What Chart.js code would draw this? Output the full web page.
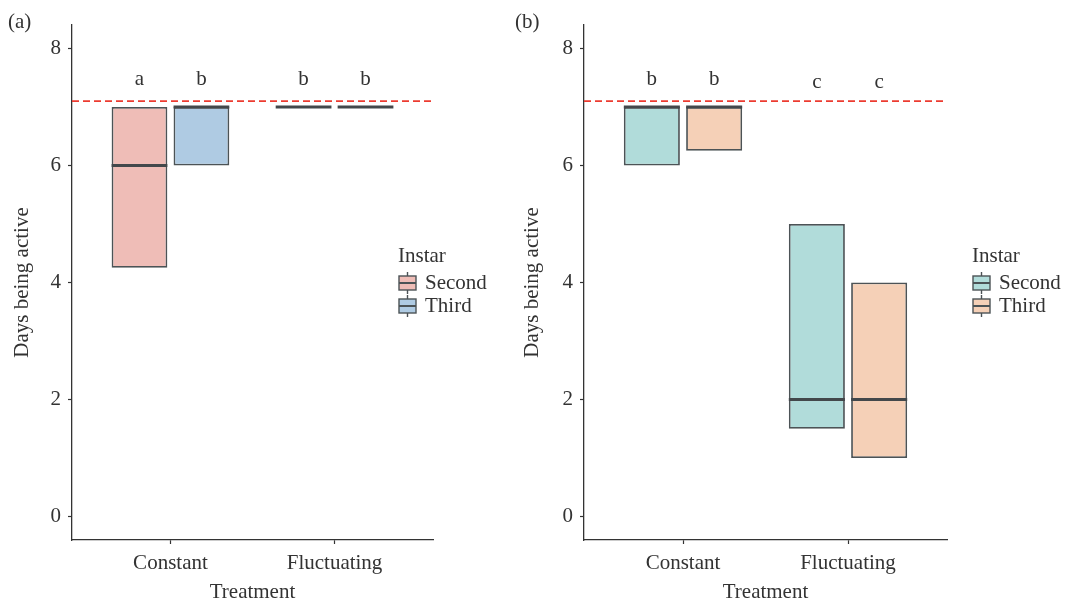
<!DOCTYPE html>
<html>
<head>
<meta charset="utf-8">
<script src="https://cdn.jsdelivr.net/npm/chart.js@4"></script>
<style>
body { margin: 0; background: #fff; }
#wrap { position: relative; width: 1065px; height: 605px; }
.panel { position: absolute; top: 0; height: 605px; }
</style>
</head>
<body>
<div id="wrap">
  <div class="panel" style="left:0;width:510px"><canvas id="chartA"></canvas></div>
  <div class="panel" style="left:510px;width:555px"><canvas id="chartB"></canvas></div>
</div>
<script>
const treatments = ['Constant', 'Fluctuating'];
const instars = ['Second', 'Third'];
const yTicks = [0, 2, 4, 6, 8];
const threshold = 7.1;

// panel (a): box low / high / median per treatment
const aSecondLow = [4.25, 7];
const aSecondHigh = [7, 7];
const aSecondMedian = [6, 7];
const aThirdLow = [6, 7];
const aThirdHigh = [7, 7];
const aThirdMedian = [7, 7];
const aSecondLetters = ['a', 'b'];
const aThirdLetters = ['b', 'b'];
const aLetterY = [7.38, 7.38];

// panel (b)
const bSecondLow = [6, 1.5];
const bSecondHigh = [7, 5];
const bSecondMedian = [7, 2];
const bThirdLow = [6.25, 1];
const bThirdHigh = [7, 4];
const bThirdMedian = [7, 2];
const bSecondLetters = ['b', 'c'];
const bThirdLetters = ['b', 'c'];
const bLetterY = [7.38, 7.33];

const FONT = "'Liberation Serif', 'DejaVu Serif', serif";
const TEXT = '#333333';
const EDGE = '#4c5356';

function boxData(low, high) {
    return treatments.map((t, i) => ({ x: i + 1, y: [low[i], high[i]] }));
}

const extras = {
    id: 'extras',
    afterDatasetsDraw(chart, args, opts) {
        const ctx = chart.ctx;
        const ys = chart.scales.y;
        const area = chart.chartArea;
        ctx.save();
        // threshold line
        ctx.strokeStyle = '#ec3b30';
        ctx.lineWidth = 1.6;
        ctx.setLineDash([7, 4]);
        const ty = ys.getPixelForValue(threshold);
        ctx.beginPath();
        ctx.moveTo(area.left, ty);
        ctx.lineTo(area.right, ty);
        ctx.stroke();
        ctx.setLineDash([]);
        // medians and letters
        chart.data.datasets.forEach((ds, di) => {
            const meta = chart.getDatasetMeta(di);
            meta.data.forEach((el, j) => {
                const my = ys.getPixelForValue(ds.medians[j]);
                ctx.strokeStyle = '#43484b';
                ctx.lineWidth = 3;
                ctx.beginPath();
                ctx.moveTo(el.x - el.width / 2, my);
                ctx.lineTo(el.x + el.width / 2, my);
                ctx.stroke();
                ctx.fillStyle = TEXT;
                ctx.font = '21px ' + FONT;
                ctx.textAlign = 'center';
                ctx.textBaseline = 'alphabetic';
                ctx.fillText(ds.letters[j], el.x, ys.getPixelForValue(opts.letterY[j]));
            });
        });
        // panel tag
        ctx.textAlign = 'left';
        ctx.textBaseline = 'middle';
        ctx.fillText(opts.tag, opts.tagX, 22);
        // legend
        const lx = opts.legendX;
        ctx.fillText('Instar', lx, 256);
        chart.data.datasets.forEach((ds, di) => {
            const cy = 283 + di * 23;
            const bx = lx + 1, bw = 17, bh = 14;
            ctx.strokeStyle = EDGE;
            ctx.lineWidth = 1.4;
            ctx.beginPath();
            ctx.moveTo(bx + bw / 2, cy - bh / 2 - 4);
            ctx.lineTo(bx + bw / 2, cy + bh / 2 + 4);
            ctx.stroke();
            ctx.fillStyle = ds.backgroundColor;
            ctx.fillRect(bx, cy - bh / 2, bw, bh);
            ctx.strokeRect(bx, cy - bh / 2, bw, bh);
            ctx.lineWidth = 2;
            ctx.beginPath();
            ctx.moveTo(bx, cy);
            ctx.lineTo(bx + bw, cy);
            ctx.stroke();
            ctx.fillStyle = TEXT;
            ctx.fillText(ds.label, lx + 27, cy);
        });
        ctx.restore();
    }
};

function makePanel(id, cfg) {
    const datasets = instars.map((name, k) => ({
        label: name,
        data: boxData(cfg.low[k], cfg.high[k]),
        medians: cfg.medians[k],
        letters: cfg.letters[k],
        backgroundColor: cfg.colors[k],
        borderColor: EDGE,
        borderWidth: 1.8,
        borderSkipped: false,
        categoryPercentage: 0.755,
        barPercentage: 0.9
    }));
    return new Chart(document.getElementById(id), {
        type: 'bar',
        data: { datasets },
        plugins: [extras],
        options: {
            responsive: true,
            maintainAspectRatio: false,
            animation: false,
            layout: { padding: { left: 0, right: cfg.padRight, top: 25, bottom: 0 } },
            plugins: {
                legend: { display: false },
                tooltip: { enabled: false },
                extras: { tag: cfg.tag, tagX: cfg.tagX, legendX: cfg.legendX, letterY: cfg.letterY }
            },
            scales: {
                x: {
                    type: 'linear',
                    min: 0.4,
                    max: 2.6,
                    offset: false,
                    afterBuildTicks: s => { s.ticks = treatments.map((t, i) => ({ value: i + 1 })); },
                    afterFit: s => { s.height = 65; },
                    ticks: {
                        callback: v => treatments[v - 1],
                        autoSkip: false,
                        maxRotation: 0,
                        padding: 7,
                        color: TEXT,
                        font: { family: FONT, size: 21 }
                    },
                    grid: { display: true, offset: false, drawOnChartArea: false, drawTicks: true, tickLength: 4, tickColor: '#333', tickWidth: 1.2 },
                    border: { display: true, color: '#333', width: 1.3 },
                    title: { display: true, text: 'Treatment', color: TEXT, padding: { top: 0, bottom: 0 }, font: { family: FONT, size: 21 } }
                },
                y: {
                    min: -0.4,
                    max: 8.4,
                    afterBuildTicks: s => { s.ticks = yTicks.map(v => ({ value: v })); },
                    afterFit: s => { s.width = cfg.axisX; },
                    ticks: { padding: 7, color: TEXT, font: { family: FONT, size: 21 } },
                    grid: { display: true, drawOnChartArea: false, drawTicks: true, tickLength: 4, tickColor: '#333', tickWidth: 1.2 },
                    border: { display: true, color: '#333', width: 1.3 },
                    title: { display: true, text: 'Days being active', color: TEXT, padding: { top: cfg.titlePad, bottom: 0 }, font: { family: FONT, size: 21 } }
                }
            }
        }
    });
}

makePanel('chartA', {
    low: [aSecondLow, aThirdLow],
    high: [aSecondHigh, aThirdHigh],
    medians: [aSecondMedian, aThirdMedian],
    letters: [aSecondLetters, aThirdLetters],
    letterY: aLetterY,
    colors: ['#efbdb7', '#afcbe3'],
    axisX: 72,
    padRight: 77,
    titlePad: 10,
    tag: '(a)',
    tagX: 8,
    legendX: 398
});

makePanel('chartB', {
    low: [bSecondLow, bThirdLow],
    high: [bSecondHigh, bThirdHigh],
    medians: [bSecondMedian, bThirdMedian],
    letters: [bSecondLetters, bThirdLetters],
    letterY: bLetterY,
    colors: ['#b1dcda', '#f5d0b7'],
    axisX: 74,
    padRight: 118,
    titlePad: 10,
    tag: '(b)',
    tagX: 5,
    legendX: 462
});
</script>
</body>
</html>
